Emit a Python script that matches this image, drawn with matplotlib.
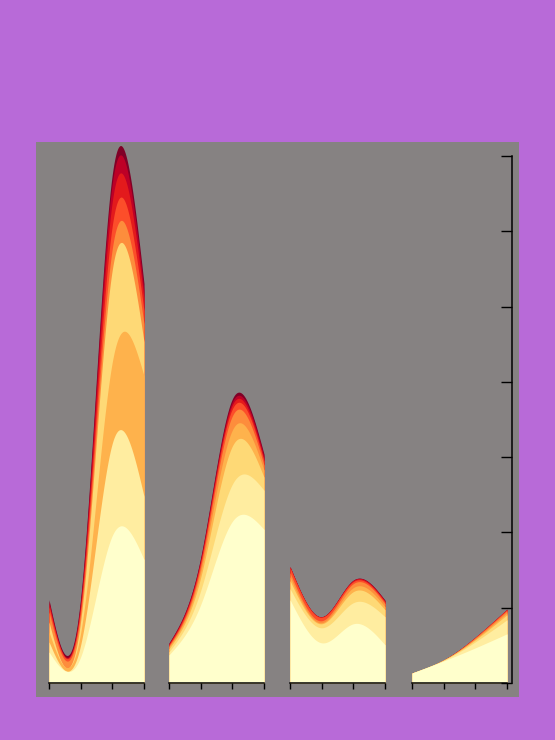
import numpy as np
import matplotlib
matplotlib.use("Agg")
from matplotlib import pyplot as plt

# four panels, 9 series each, values at x = 0, 1, 2, 3
x_knots = [0, 1, 2, 3]
series_colors = ["#ffffcc", "#ffeda0", "#fed976", "#feb24c", "#fd8d3c",
                 "#fc4e2a", "#e31a1c", "#bd0026", "#800026"]

panel1 = [
    [31, 26, 147, 123],
    [10, 12, 92, 63],
    [10, 12, 92, 34],
    [10, 12, 81, 120],
    [10, 8, 21, 18],
    [5, 5, 23, 13],
    [3, 4, 24, 12],
    [2, 3, 18, 8],
    [2, 3, 9, 7],
]
panel2 = [
    [28, 78, 161, 153],
    [3, 14, 37, 39],
    [3, 13, 38, 13],
    [2, 6, 16, 7],
    [1, 5, 14, 5],
    [1, 4, 7, 4],
    [1, 2, 4, 2],
    [0.5, 2, 3, 3],
    [0.5, 1, 3, 2],
]
panel3 = [
    [83, 40, 59, 38],
    [11, 15, 21, 28],
    [8, 4, 11, 7],
    [4, 1, 4, 3],
    [4, 2, 4, 3],
    [5, 3.5, 2, 1.5],
    [1, 0.5, 1, 1],
    [0, 0, 0.3, 0.5],
    [0, 0, 0.2, 0.5],
]
panel4 = [
    [10, 22, 35, 49],
    [0, 0.5, 6, 14],
    [0, 0.5, 2, 5],
    [0, 0, 1, 2],
    [0, 0, 1, 2],
    [0, 0, 0.6, 1.2],
    [0, 0, 0, 0.3],
    [0, 0, 0, 0],
    [0, 0, 0, 0],
]
panels = [panel1, panel2, panel3, panel4]
# bottom-to-top stacking order of the series in each panel
stack_orders = [
    [0, 1, 3, 2, 4, 5, 6, 7, 8],
    [0, 1, 2, 3, 4, 5, 6, 7, 8],
    [0, 1, 2, 3, 4, 5, 6, 7, 8],
    [0, 1, 2, 3, 4, 5, 6, 7, 8],
]
y_ticks = [0, 75, 150, 225, 300, 375, 450, 525]


def natural_spline(xk, yk, xs):
    xk = np.asarray(xk, float)
    yk = np.asarray(yk, float)
    n = len(xk)
    h = np.diff(xk)
    A = np.zeros((n, n))
    rhs = np.zeros(n)
    A[0, 0] = A[-1, -1] = 1
    for i in range(1, n - 1):
        A[i, i - 1] = h[i - 1]
        A[i, i] = 2 * (h[i - 1] + h[i])
        A[i, i + 1] = h[i]
        rhs[i] = 6 * ((yk[i + 1] - yk[i]) / h[i] - (yk[i] - yk[i - 1]) / h[i - 1])
    M = np.linalg.solve(A, rhs)
    idx = np.clip(np.searchsorted(xk, xs) - 1, 0, n - 2)
    x0, x1 = xk[idx], xk[idx + 1]
    hh = x1 - x0
    a = (x1 - xs) / hh
    b = (xs - x0) / hh
    return (a * yk[idx] + b * yk[idx + 1]
            + ((a ** 3 - a) * M[idx] + (b ** 3 - b) * M[idx + 1]) * hh ** 2 / 6)


W, H = 555, 740
fig = plt.figure(figsize=(W / 100, H / 100), dpi=100)
fig.patch.set_facecolor("#b86ad8")

bg = fig.add_axes([36 / W, 43 / H, 483 / W, 555 / H])
bg.set_facecolor("#868282")
for s in bg.spines.values():
    s.set_visible(False)
bg.set_xticks([])
bg.set_yticks([])

bottom = 57 / H
height = 527 / H
lefts = [49, 169, 290, 412]
xs = np.linspace(0, 3, 300)

for left, data, order in zip(lefts, panels, stack_orders):
    ax = fig.add_axes([left / W, bottom, 95 / W, height])
    ax.set_facecolor("none")
    # cumulative tops, then paint from the top layer down so no seams show
    base = np.zeros(len(x_knots))
    tops = []
    for k in order:
        base = base + np.asarray(data[k], float)
        tops.append((k, natural_spline(x_knots, base, xs)))
    for k, top in reversed(tops):
        ax.fill_between(xs, 0, top, color=series_colors[k], lw=0, clip_on=False)
    ax.set_xlim(0, 3)
    ax.set_ylim(0, 525)
    for s in ["top", "left", "right"]:
        ax.spines[s].set_visible(False)
    ax.spines["bottom"].set_linewidth(1.1)
    ax.spines["bottom"].set_zorder(5)
    ax.set_xticks(x_knots)
    ax.set_xticklabels([])
    ax.set_yticks([])
    ax.tick_params(axis="x", direction="out", length=4, width=1)

yax = fig.add_axes([49 / W, bottom, 463 / W, height])
yax.set_facecolor("none")
for s in ["top", "left", "bottom"]:
    yax.spines[s].set_visible(False)
yax.spines["right"].set_linewidth(1.1)
yax.set_xticks([])
yax.set_ylim(0, 525)
yax.set_yticks(y_ticks)
yax.yaxis.tick_right()
yax.set_yticklabels([])
yax.tick_params(axis="y", direction="in", length=8, width=1)

fig.savefig("out.png", dpi=100, facecolor=fig.get_facecolor())
